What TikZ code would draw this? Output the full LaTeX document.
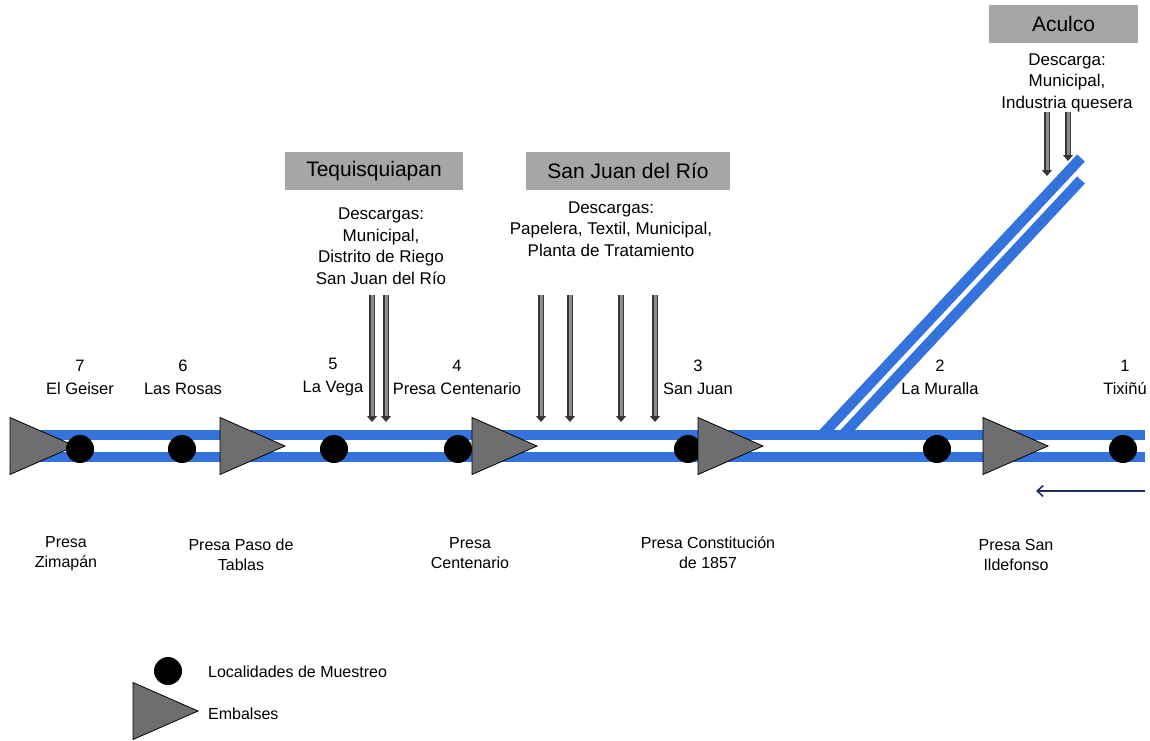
\documentclass[tikz,border=0pt]{standalone}
\usepackage{fontspec}
\setmainfont{Liberation Sans}
\usetikzlibrary{arrows.meta}
\definecolor{river}{RGB}{52,115,220}
\definecolor{boxgray}{RGB}{166,166,166}
\definecolor{damgray}{RGB}{110,110,110}
\definecolor{arrowdark}{RGB}{55,55,55}
\definecolor{arrowfill}{RGB}{140,140,140}
\definecolor{navy}{RGB}{31,45,96}
\tikzset{
  riverline/.style={line width=10.5pt, draw=river},
  site/.style={circle, fill=black, minimum size=28pt, inner sep=0pt},
  lab/.style={align=center, font=\fontsize{16.5}{23}\selectfont, inner sep=0pt},
  presalab/.style={align=center, font=\fontsize{16}{20}\selectfont, inner sep=0pt},
  desc/.style={align=center, font=\fontsize{17}{21.5}\selectfont, inner sep=0pt},
  town/.style={fill=boxgray, font=\fontsize{21}{24}\selectfont, minimum height=38pt, inner sep=0pt},
  legtext/.style={anchor=west, font=\fontsize{16}{20}\selectfont, inner sep=0pt},
  discharge/.style={draw=arrowdark, line width=1.1pt, double=arrowfill, double distance=3pt, -{Triangle[length=6pt,width=10pt]}},
  flow/.style={draw=navy, line width=1.6pt, -{Straight Barb[length=6pt,width=11pt]}},
  damshape/.style={fill=damgray, draw=black, line width=0.8pt},
  dam/.pic={\path[damshape] (0,-28.5) -- (65,0) -- (0,28.5) -- cycle;},
}
\begin{document}
\begin{tikzpicture}[x=1pt,y=-1pt]
\useasboundingbox (0,0) rectangle (1150,740);

% river coordinates
\coordinate (tl) at (10,435);  \coordinate (tr) at (1145,435);
\coordinate (bl) at (10,457);  \coordinate (br) at (1145,457);
\coordinate (d1a) at (822,435); \coordinate (d1b) at (1081,158);
\coordinate (d2a) at (843,435); \coordinate (d2b) at (1081,180);

\draw[riverline] (tl) -- (tr);
\draw[riverline] (bl) -- (br);
\draw[riverline] (d1a) -- (d1b);
\draw[riverline] (d2a) -- (d2b);

% town boxes
\node[town, minimum width=178pt] (teq) at (374,171) {Tequisquiapan};
\node[town, minimum width=204pt] (sjr) at (628,171) {San Juan del Río};
\node[town, minimum width=149pt] (acu) at (1063.5,24) {Aculco};

% discharge texts
\node[desc] (teqd) at (381,246) {Descargas:\\Municipal,\\Distrito de Riego\\San Juan del Río};
\node[desc] (sjrd) at (611,229) {Descargas:\\Papelera, Textil, Municipal,\\Planta de Tratamiento};
\node[desc] (acud) at (1067,82.5) {Descarga:\\Municipal,\\Industria quesera};

% discharge arrows
\foreach \n/\x/\ya/\yb in {a/372/295/422, b/386/295/422, c/541/295/422, d/570/295/422, e/621/295/422, f/655/295/422, g/1047/112/176, h/1068/112/161}{
  \coordinate (s\n) at (\x,\ya);
  \coordinate (e\n) at (\x,\yb);
  \draw[discharge] (s\n) -- (e\n);
}

% first dam (under its circle)
\pic (dam1) at (10,446) {dam};

% sampling sites
\node[site] (c7) at (80,449) {};
\node[site] (c6) at (182,449) {};
\node[site] (c5) at (334,449) {};
\node[site] (c4) at (458,449) {};
\node[site] (c3) at (688,449) {};
\node[site] (c2) at (937,449) {};
\node[site] (c1) at (1123,449) {};

% other dams
\pic (dam2) at (220,446) {dam};
\pic (dam3) at (472,446) {dam};
\pic (dam4) at (698,446) {dam};
\pic (dam5) at (983,446) {dam};

% site labels
\node[lab] (l7) at (80,377.5) {7\\El Geiser};
\node[lab] (l6) at (183,377.5) {6\\Las Rosas};
\node[lab] (l5) at (333,377.5) {5\\La Vega};
\node[lab] (l4) at (457,377.5) {4\\Presa Centenario};
\node[lab] (l3) at (698,377.5) {3\\San Juan};
\node[lab] (l2) at (940,377.5) {2\\La Muralla};
\node[lab] (l1) at (1125,377.5) {1\\Tixiñú};

% dam labels
\node[presalab] (p1) at (66,554) {Presa\\Zimapán};
\node[presalab] (p2) at (241,555) {Presa Paso de\\Tablas};
\node[presalab] (p3) at (470,553) {Presa\\Centenario};
\node[presalab] (p4) at (708,553) {Presa Constitución\\de 1857};
\node[presalab] (p5) at (1016,555) {Presa San\\Ildefonso};

% flow direction
\coordinate (fa) at (1145,491);
\coordinate (fb) at (1036,491);
\draw[flow] (fa) -- (fb);

% legend
\node[site] (legc) at (168,671) {};
\pic (legd) at (133,711) {dam};
\node[legtext] (legct) at (208,672) {Localidades de Muestreo};
\node[legtext] (legdt) at (208,714) {Embalses};
\end{tikzpicture}
\end{document}
